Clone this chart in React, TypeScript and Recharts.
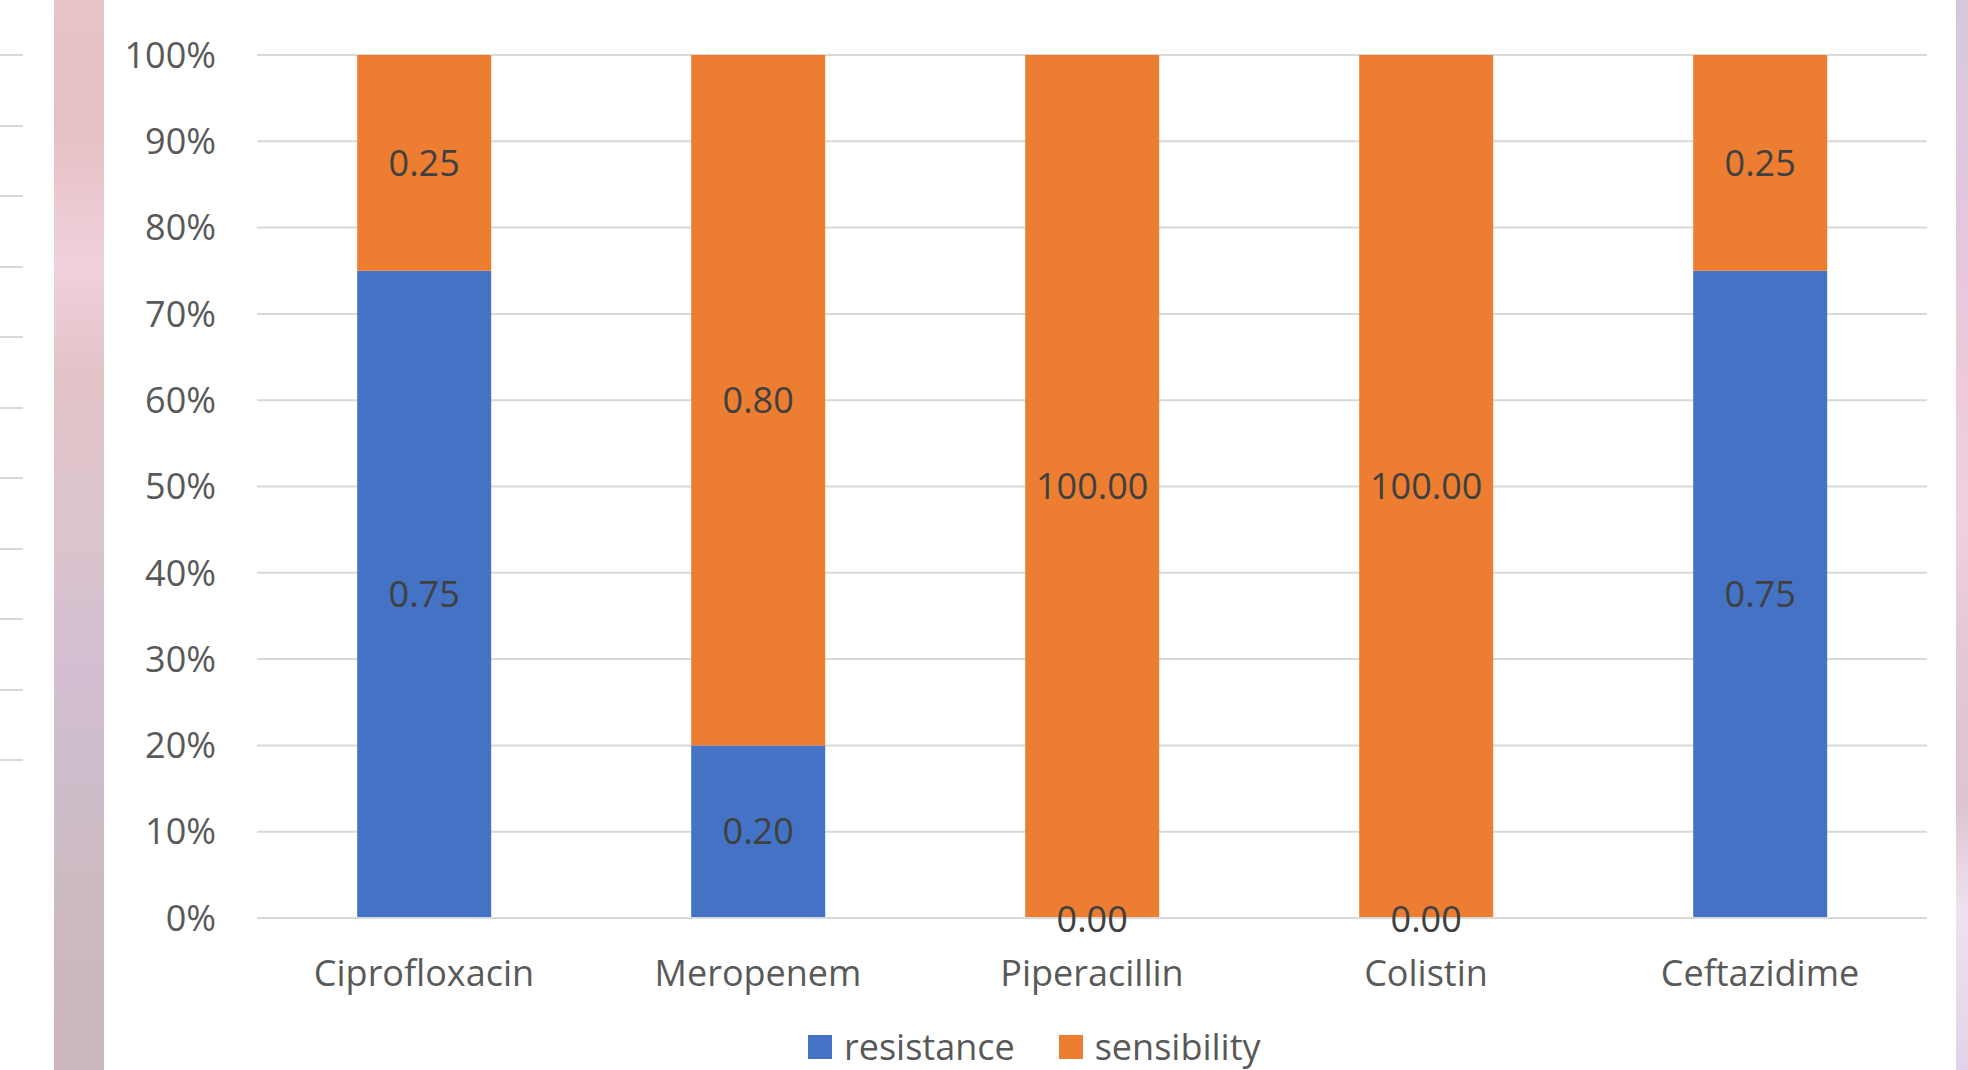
import * as React from "react"
import { BarChart, Bar, XAxis, YAxis, CartesianGrid, Legend, LabelList } from "recharts"

const antibiotics = ["Ciprofloxacin", "Meropenem", "Piperacillin", "Colistin", "Ceftazidime"]
const resistance = [0.75, 0.2, 0.0, 0.0, 0.75]
const sensibility = [0.25, 0.8, 100.0, 100.0, 0.25]
const yTicks = [0, 0.1, 0.2, 0.3, 0.4, 0.5, 0.6, 0.7, 0.8, 0.9, 1]

const series = [
  { key: "resistance", color: "#4472c4" },
  { key: "sensibility", color: "#ed7d31" },
]

const data = antibiotics.map((name, i) => ({
  name,
  resistance: resistance[i],
  sensibility: sensibility[i],
}))

const FONT = "'Open Sans', 'Noto Sans', sans-serif"
const GRID = "#d9d9d9"
const LABEL = "#404040"

const fmt = (v: any) => Number(v).toFixed(2)

// zero-height resistance segments get no rect, so their label is drawn at the
// foot of the sensibility bar instead (on top of it, like the other labels)
function ZeroResistanceLabel(props: any) {
  const { x, y, width, height, index } = props
  if (index == null || resistance[index] !== 0) return null
  return (
    <text
      x={Number(x) + Number(width) / 2}
      y={Number(y) + Number(height)}
      textAnchor="middle"
      dominantBaseline="central"
      fill={LABEL}
      fontSize={36}
      fontFamily={FONT}
    >
      {fmt(resistance[index])}
    </text>
  )
}

function LegendContent() {
  return (
    <div style={{ display: "flex", alignItems: "center", marginLeft: 808, fontFamily: FONT, fontSize: 36, color: "#595959", lineHeight: "40px" }}>
      {series.map((s, i) => (
        <div key={s.key} style={{ display: "flex", alignItems: "center", marginRight: i === 0 ? 44 : 0 }}>
          <span style={{ width: 24, height: 24, background: s.color, display: "inline-block", marginRight: 12 }} />
          <span>{s.key}</span>
        </div>
      ))}
    </div>
  )
}

// strips left over from neighbouring slides
function SideDecor() {
  const stubs = Array.from({ length: 11 }, (_, i) => 55 + i * 70.5)
  return (
    <>
      {stubs.map((y) => (
        <div key={y} style={{ position: "absolute", left: 0, top: y - 1, width: 23, height: 2, background: GRID }} />
      ))}
      <div
        style={{
          position: "absolute", left: 54, top: 0, width: 50, height: 1070,
          background: "linear-gradient(180deg, #e8c3c5 0%, #e6c0c4 12%, #f0d1dc 25%, #e2c3c8 35%, #dbc4cc 50%, #d4bfd2 62%, #cdbdca 72%, #ccbac0 85%, #cbb6bb 100%)",
        }}
      />
      <div
        style={{
          position: "absolute", left: 1956, top: 0, width: 12, height: 1070,
          background: "linear-gradient(180deg, #d6c9dc 0%, #e2c7df 20%, #edc9da 35%, #f2d0e0 48%, #e3c8d8 60%, #dcc4d2 75%, #efe1ef 85%, #e2d3e8 100%)",
        }}
      />
    </>
  )
}

export default function App() {
  return (
    <div style={{ position: "absolute", left: 0, top: 0, width: 1968, height: 1070, background: "#fff", overflow: "hidden" }}>
      <SideDecor />
      <div style={{ position: "absolute", left: 0, top: 0 }}>
        <BarChart
          width={1968}
          height={1070}
          data={data}
          stackOffset="expand"
          barCategoryGap="30%"
          margin={{ top: 55, right: 41, bottom: 0, left: 0 }}
        >
          <CartesianGrid vertical={false} stroke={GRID} strokeWidth={2} />
          <XAxis
            dataKey="name"
            height={152}
            tickLine={false}
            tickSize={0}
            tickMargin={42}
            axisLine={{ stroke: GRID, strokeWidth: 2 }}
            tick={{ fill: "#595959", fontSize: 36, fontFamily: FONT }}
          />
          <YAxis
            width={257}
            domain={[0, 1]}
            ticks={yTicks}
            tickFormatter={(v) => `${Math.round(v * 100)}%`}
            axisLine={false}
            tickLine={false}
            tickSize={0}
            tickMargin={41}
            tick={{ fill: "#595959", fontSize: 36, fontFamily: FONT }}
          />
          <Legend
            layout="horizontal"
            verticalAlign="middle"
            align="center"
            wrapperStyle={{ top: 1027, left: 0, width: 1968 }}
            content={<LegendContent />}
          />
          <Bar dataKey="resistance" stackId="a" fill="#4472c4" isAnimationActive={false}>
            <LabelList dataKey="resistance" position="center" formatter={fmt} fill={LABEL} fontSize={36} fontFamily={FONT} />
          </Bar>
          <Bar dataKey="sensibility" stackId="a" fill="#ed7d31" isAnimationActive={false}>
            <LabelList dataKey="sensibility" position="center" formatter={fmt} fill={LABEL} fontSize={36} fontFamily={FONT} />
            <LabelList dataKey="sensibility" content={<ZeroResistanceLabel />} />
          </Bar>
        </BarChart>
      </div>
    </div>
  )
}
